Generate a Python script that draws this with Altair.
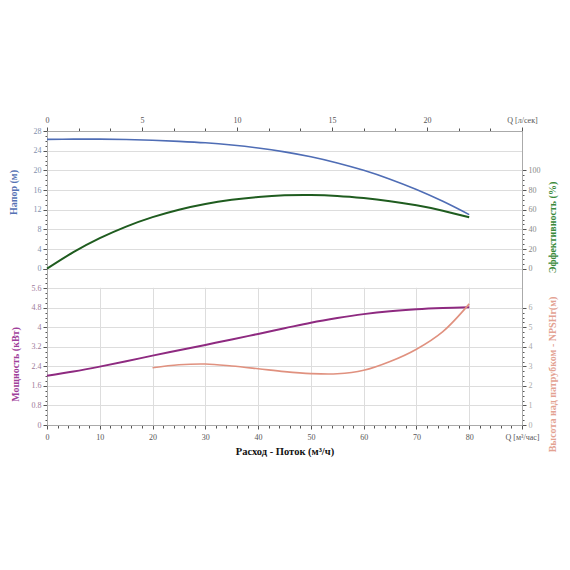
import altair as alt
import pandas as pd

# расход, м3/ч
q = [0, 5, 10, 15, 20, 25, 30, 35, 40, 45, 50, 55, 60, 65, 70, 75, 80]
head = [26.3, 26.35, 26.35, 26.28, 26.12, 25.9, 25.6, 25.15, 24.55, 23.75, 22.75,
        21.5, 20.0, 18.2, 16.1, 13.7, 11.0]
eff = [0, 16.8, 31.0, 42.8, 52.4, 60.0, 65.8, 70.0, 72.9, 74.6, 74.9, 74.0,
       71.8, 68.6, 64.4, 59.0, 52.3]
power = [2.02, 2.19, 2.39, 2.61, 2.84, 3.06, 3.28, 3.5, 3.73, 3.96, 4.19, 4.38,
         4.54, 4.66, 4.74, 4.79, 4.82]

q_npsh = [20, 25, 30, 35, 40, 45, 50, 55, 60, 65, 70, 75, 80]
npsh = [2.93, 3.08, 3.12, 3.02, 2.88, 2.73, 2.63, 2.62, 2.8, 3.25, 3.88, 4.78, 6.2]

# деления осей
x_bottom_ticks = list(range(0, 91, 2))
x_top_ticks = list(range(0, 91, 6))
head_ticks = list(range(0, 29))
eff_ticks = list(range(0, 101, 5))
power_ticks = [round(i * 0.2, 1) for i in range(0, 33)]
npsh_ticks = [i * 0.25 for i in range(0, 25)]

df_main = pd.DataFrame({'q': q, 'head': head, 'eff': eff, 'power': power})
df_npsh = pd.DataFrame({'q': q_npsh, 'npsh': npsh})

W, H = 475, 294
TOP_H = 137.7
FONT = 'Liberation Serif'


def cond(test, a, b):
    return {'condition': {'test': test, 'value': a}, 'value': b}


xscale = alt.Scale(domain=[0, 90], nice=False)
common = dict(labelFont=FONT, labelFontSize=8, titleFont=FONT, titleFontSize=10,
              titleFontWeight='bold', domainColor='#aaaaaa', tickColor='#555555',
              gridColor='#dddddd', labelOverlap=False, labelFlush=False)

x_top = alt.X('q:Q', scale=xscale, axis=alt.Axis(
    orient='top', values=x_top_ticks, title=None, grid=False,
    labelExpr="datum.value == 90 ? 'Q [л/сек]' : (datum.value % 18 == 0 ? '' + round(datum.value / 3.6) : '')",
    tickSize=cond('datum.value % 18 == 0', 4, 3), labelColor='#555555', labelPadding=3,
    **common))

x_bot = alt.X('q:Q', scale=xscale, axis=alt.Axis(
    **{**common, 'titleFontSize': 10.5},
    orient='bottom', values=x_bottom_ticks, title='Расход - Поток (м³/ч)',
    titleColor='#111111', titlePadding=5,
    labelExpr="datum.value == 90 ? 'Q [м³/час]' : (datum.value % 10 == 0 ? '' + datum.value : '')",
    grid=True, gridOpacity=cond('datum.value % 10 == 0', 1, 0),
    tickSize=cond('datum.value % 10 == 0', 4, 3), labelColor='#555555', labelPadding=4))

head_line = alt.Chart(df_main).mark_line(color='#4f6db5', strokeWidth=1.6, interpolate='catmull-rom').encode(
    x=x_top,
    y=alt.Y('head:Q', scale=alt.Scale(domain=[0, 28], range=[TOP_H, 0], nice=False, zero=False),
            axis=alt.Axis(orient='left', values=head_ticks,
                          labelExpr="datum.value % 4 == 0 ? '' + datum.value : ''",
                          tickSize=cond('datum.value % 4 == 0', 4, 2),
                          grid=True, gridOpacity=cond('datum.value % 4 == 0', 1, 0),
                          title='Напор (м)', titleColor='#5572b4', titleAngle=270,
                          titleX=-34, titleY=61, titleAlign='center', titleBaseline='middle',
                          labelColor='#8290ad', labelPadding=2, **common)),
)

eff_line = alt.Chart(df_main).mark_line(color='#1f5c1f', strokeWidth=2, interpolate='catmull-rom').encode(
    x=x_bot,
    y=alt.Y('eff:Q', scale=alt.Scale(domain=[0, 140], range=[TOP_H, 0], nice=False, zero=False),
            axis=alt.Axis(orient='right', values=eff_ticks,
                          labelExpr="datum.value % 20 == 0 ? '' + datum.value : ''",
                          tickSize=cond('datum.value % 20 == 0', 4, 2), grid=False,
                          title='Эффективность (%)', titleColor='#3a8a3a', titleAngle=270,
                          titleX=30, titleY=96, titleAlign='center', titleBaseline='middle',
                          labelColor='#888888', labelPadding=2, **common)),
)

power_line = alt.Chart(df_main).mark_line(color='#8e2a80', strokeWidth=2, interpolate='catmull-rom').encode(
    x=alt.X('q:Q', scale=xscale, axis=None),
    y=alt.Y('power:Q', scale=alt.Scale(domain=[0, 6.4], range=[H, TOP_H], nice=False, zero=False),
            axis=alt.Axis(orient='left', values=power_ticks,
                          labelExpr="round(datum.value * 10) % 8 == 0 && datum.value < 6.3 ? '' + round(datum.value * 10) / 10 : ''",
                          tickSize=cond('round(datum.value * 10) % 8 == 0', 4, 2),
                          grid=True, gridOpacity=cond('round(datum.value * 10) % 8 == 0', 1, 0),
                          title='Мощность (кВт)', titleColor='#a0409a', titleAngle=270,
                          titleX=-32, titleY=233, titleAlign='center', titleBaseline='middle',
                          labelColor='#9c7a98', labelPadding=2, **common)),
)

npsh_line = alt.Chart(df_npsh).mark_line(color='#e0917f', strokeWidth=1.6, interpolate='catmull-rom').encode(
    x=alt.X('q:Q', scale=xscale, axis=None),
    y=alt.Y('npsh:Q', scale=alt.Scale(domain=[0, 8], range=[H, TOP_H], nice=False, zero=False),
            axis=alt.Axis(orient='right', values=npsh_ticks,
                          labelExpr="datum.value % 1 == 0 ? '' + datum.value : ''",
                          tickSize=cond('datum.value % 1 == 0', 4, 2), grid=False,
                          title='Высота над патрубком - NPSHr(м)', titleColor='#e3a292',
                          titleAngle=270, titleX=30, titleY=243, titleAlign='center',
                          titleBaseline='middle', labelColor='#aaaaaa', labelPadding=2,
                          **common)),
)

chart = alt.layer(head_line, eff_line, power_line, npsh_line).resolve_scale(
    y='independent'
).resolve_axis(
    x='independent', y='independent'
).properties(
    width=W, height=H,
    autosize=alt.AutoSizeParams(type='none'),
    padding={'left': 39, 'top': 123, 'right': 40, 'bottom': 40},
    background='white',
).configure_view(stroke=None)

chart.save("out.html", embed_options={"renderer": "svg", "actions": False})
